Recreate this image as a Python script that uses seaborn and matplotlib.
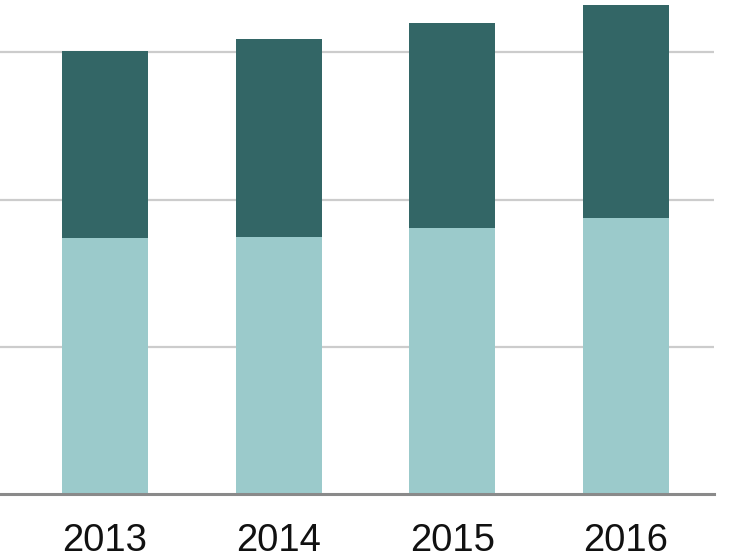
import matplotlib
matplotlib.use("Agg")
import matplotlib.pyplot as plt
import pandas as pd
import seaborn as sns

# values (gridline spacing = 100)
years = ["2013", "2014", "2015", "2016"]
lower_values = [174.2, 174.7, 180.8, 187.5]
upper_values = [126.8, 134.2, 139.1, 144.5]

DARK = "#336666"
LIGHT = "#9bcacb"

totals = [lo + up for lo, up in zip(lower_values, upper_values)]
df = pd.DataFrame({"year": years, "lower": lower_values, "total": totals})

sns.set_theme(style="white")
plt.rcParams["font.family"] = ["Liberation Sans", "DejaVu Sans"]

fig = plt.figure(figsize=(7.46, 5.6), dpi=100)
ax = fig.add_axes([0.0, 0.1179, 0.957, 0.8821])

sns.barplot(data=df, x="year", y="total", color=DARK, width=0.495,
            saturation=1, linewidth=0, ax=ax, zorder=3)
sns.barplot(data=df, x="year", y="lower", color=LIGHT, width=0.495,
            saturation=1, linewidth=0, ax=ax, zorder=4)

ax.set_xlim(-0.604, 3.507)
ax.set_ylim(0, 335.6)
ax.set_yticks([100, 200, 300])
ax.yaxis.grid(True, color="#cccccc", linewidth=1.6, zorder=0)
ax.set_axisbelow(True)
ax.tick_params(axis="y", left=False, labelleft=False)
ax.tick_params(axis="x", length=0, pad=21, labelsize=27.5, labelcolor="#111111")
ax.set_xlabel("")
ax.set_ylabel("")

for side in ["top", "right", "left"]:
    ax.spines[side].set_visible(False)
ax.spines["bottom"].set_color("#8a8a8a")
ax.spines["bottom"].set_linewidth(2.2)
ax.spines["bottom"].set_zorder(5)

fig.savefig("out.png", dpi=100)
